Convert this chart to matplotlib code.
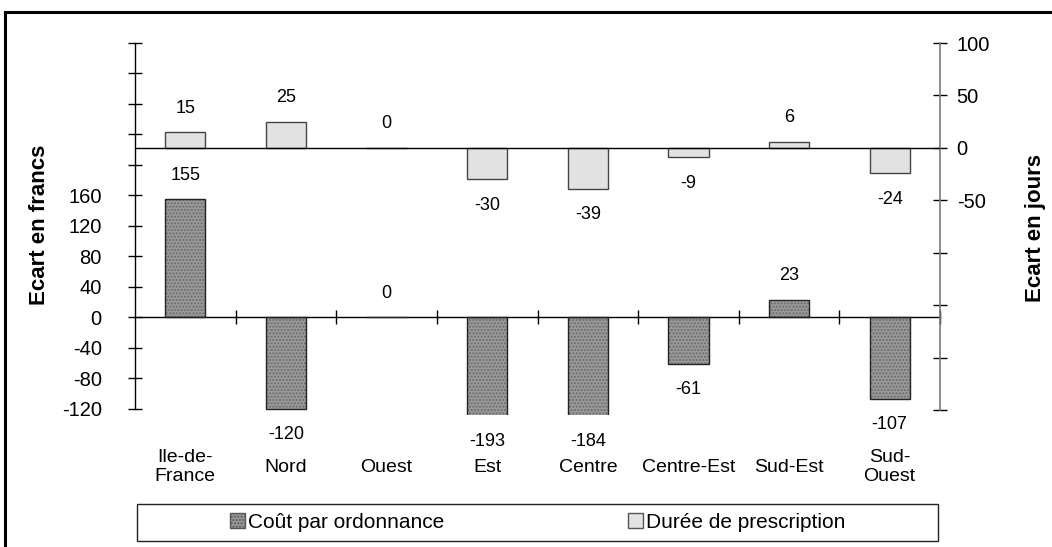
import matplotlib
matplotlib.use("Agg")
import matplotlib.pyplot as plt
from matplotlib.patches import Rectangle, Patch
from matplotlib.ticker import FixedLocator, FixedFormatter

plt.rcParams['font.family'] = ['Liberation Sans', 'DejaVu Sans']

regions = ["Ile-de-\nFrance", "Nord", "Ouest", "Est", "Centre", "Centre-Est", "Sud-Est", "Sud-\nOuest"]
cout = [155, -120, 0, -193, -184, -61, 23, -107]
duree = [15, 25, 0, -30, -39, -9, 6, -24]
series_names = ["Coût par ordonnance", "Durée de prescription"]
left_ticks = list(range(-120, 361, 40))
left_labels = [str(t) if t <= 160 else "" for t in left_ticks]
right_ticks = list(range(-250, 101, 50))
right_labels = [str(t) if t >= -50 else "" for t in right_ticks]

W, H = 1052, 547
fig = plt.figure(figsize=(W / 100, H / 100), dpi=100)

# outer frame
fig.patches.append(Rectangle((5 / W, -0.05), 1.1, 1 - 12 / H + 0.05, transform=fig.transFigure,
                             fill=False, edgecolor='black', linewidth=2.2, clip_on=False))

ax = fig.add_axes([135 / W, 1 - 415 / H, 805 / W, 372 / H])
ax.set_xlim(-0.5, len(regions) - 0.5)
ax.set_ylim(-128, 360)
ax2 = ax.twinx()
ax2.set_ylim(-254.3, 100)
ax.patch.set_visible(False)

x = list(range(len(regions)))
bw = 0.4
dark_face = '#9a9a9a'
light_face = '#e2e2e2'

# Coût bars (hatched, left axis)
ax.bar(x, cout, width=bw, color=dark_face, edgecolor='#6a6a6a', hatch='.....', linewidth=0, zorder=2)
ax.bar(x, cout, width=bw, fill=False, edgecolor='#222222', linewidth=1.0, zorder=3)
# Durée bars (right axis)
ax2.bar(x, duree, width=bw, color=light_face, edgecolor='#444444', linewidth=1.0, zorder=3)
ax2.axhline(0, color='black', linewidth=1.0, zorder=4)

# value labels
lo1 = ax.get_ylim()[0]
for i, v in enumerate(cout):
    vv = max(v, lo1)
    ax.annotate(str(v), xy=(i, vv), xytext=(0, 24 if v >= 0 else -26), textcoords='offset pixels',
                ha='center', va='center', fontsize=13, annotation_clip=False)
for i, v in enumerate(duree):
    ax2.annotate(str(v), xy=(i, v), xytext=(0, 24 if v >= 0 else -26), textcoords='offset pixels',
                 ha='center', va='center', fontsize=13, annotation_clip=False)

# spines
ax.spines['top'].set_visible(False)
ax2.spines['top'].set_visible(False)
ax.spines['right'].set_visible(False)
ax2.spines['left'].set_visible(False)
ax2.spines['bottom'].set_visible(False)
ax.spines['bottom'].set_position(('data', 0))
ax.spines['bottom'].set_linewidth(1.0)
ax.spines['left'].set_bounds(-120, 360)
ax.spines['left'].set_linewidth(1.0)
ax2.spines['right'].set_bounds(-250, 100)
ax2.spines['right'].set_color('#7a7a7a')
ax2.spines['right'].set_linewidth(1.2)

ax.yaxis.set_major_locator(FixedLocator(left_ticks))
ax.yaxis.set_major_formatter(FixedFormatter(left_labels))
ax.tick_params(axis='y', direction='inout', length=10, width=1, labelsize=14.5, pad=19)
ax2.yaxis.set_major_locator(FixedLocator(right_ticks))
ax2.yaxis.set_major_formatter(FixedFormatter(right_labels))
ax2.tick_params(axis='y', direction='inout', length=10, width=1, labelsize=14.5, pad=7)

bounds = [i + 0.5 for i in range(len(regions))]
ax.xaxis.set_major_locator(FixedLocator(bounds))
ax.xaxis.set_major_formatter(FixedFormatter([""] * len(bounds)))
ax.tick_params(axis='x', direction='inout', length=10, width=1)

# category labels
for i, r in enumerate(regions):
    ax.text(i, -(467 - 415) / 372, r, transform=ax.get_xaxis_transform(), ha='center', va='center',
            fontsize=14, linespacing=1.15)

ax.set_ylabel("Ecart en francs", fontsize=16, fontweight='bold')
ax.yaxis.set_label_coords(-(135 - 50) / 805, (415 - 225) / 372)
ax2.set_ylabel("Ecart en jours", fontsize=16, fontweight='bold')
ax2.yaxis.set_label_coords(1 + (1025 - 940) / 805, (415 - 228) / 372)

# legend box
fig.patches.append(Rectangle((137 / W, 1 - 541 / H), (938 - 137) / W, 37 / H, transform=fig.transFigure,
                             fill=False, edgecolor='#222222', linewidth=1.0))
handles = [Patch(facecolor=dark_face, edgecolor='#555555', hatch='.....', label=series_names[0]),
           Patch(facecolor=light_face, edgecolor='#555555', label=series_names[1])]
fig.legend(handles=handles, loc='center left', bbox_to_anchor=(230 / W, 1 - 522 / H), ncol=2,
           frameon=False, fontsize=15, handlelength=0.72, handleheight=0.72, handletextpad=0.15,
           columnspacing=8.8, borderpad=0, borderaxespad=0)

fig.savefig("out.png", dpi=100)
